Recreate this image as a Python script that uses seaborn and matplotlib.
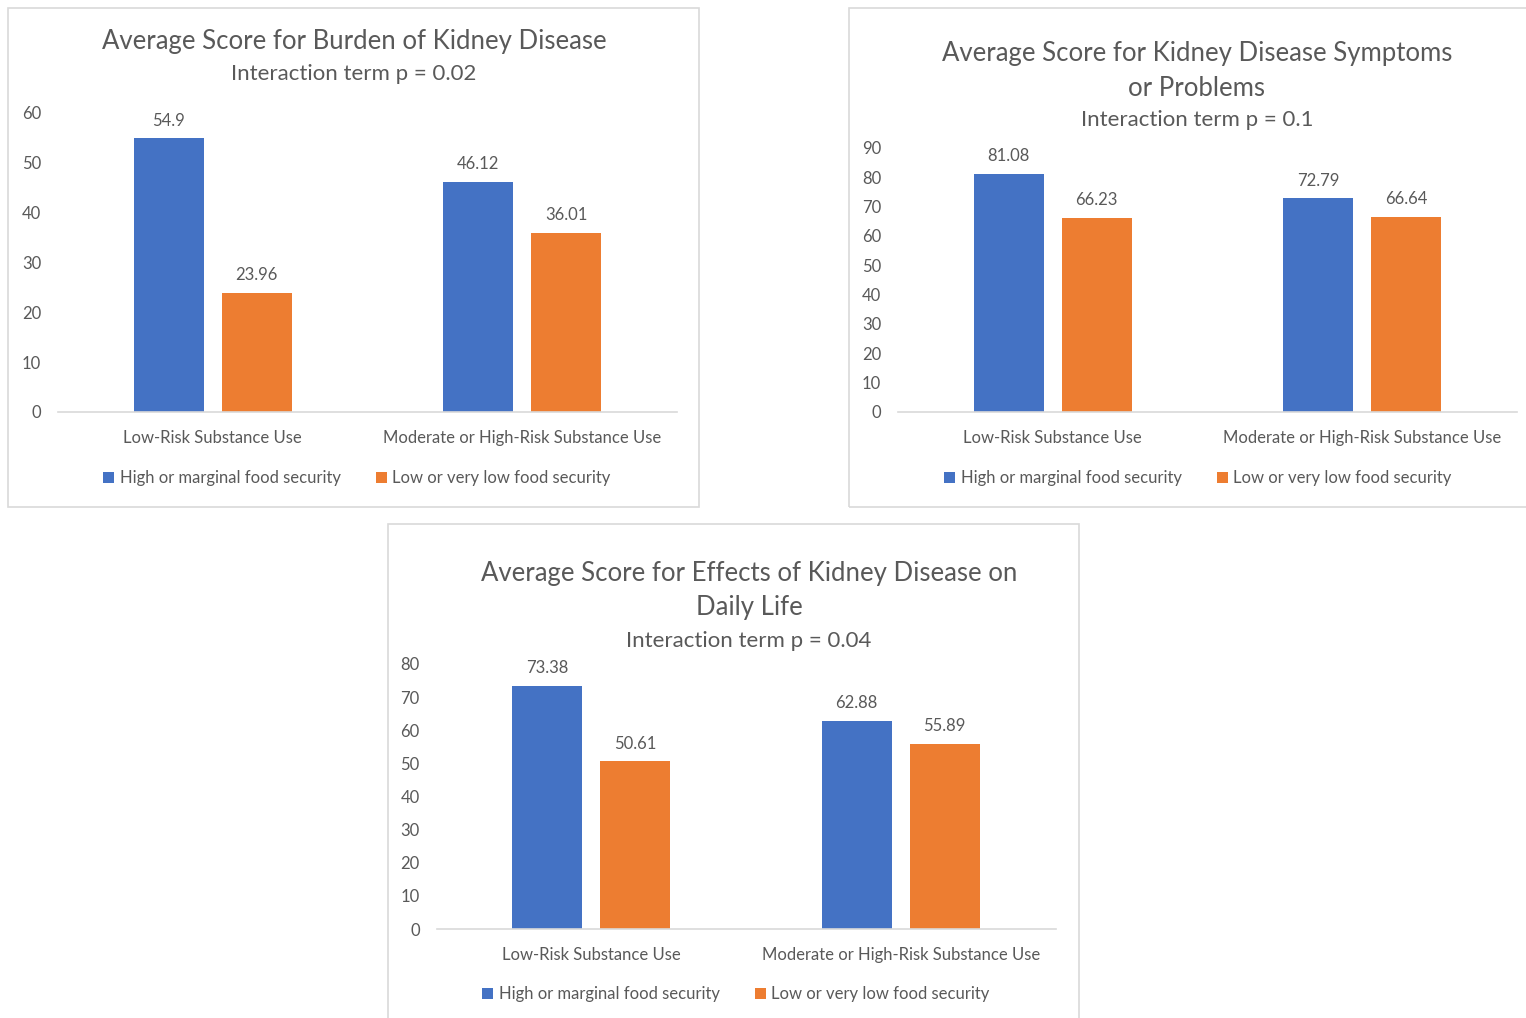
import matplotlib
matplotlib.use("Agg")
import matplotlib.pyplot as plt
import seaborn as sns
import pandas as pd
from matplotlib.patches import Rectangle, Patch

# ---- data ----
categories = ["Low-Risk Substance Use", "Moderate or High-Risk Substance Use"]
series_names = ["High or marginal food security", "Low or very low food security"]
burden_high = [54.9, 46.12]
burden_low = [23.96, 36.01]
symptoms_high = [81.08, 72.79]
symptoms_low = [66.23, 66.64]
effects_high = [73.38, 62.88]
effects_low = [50.61, 55.89]
titles = ["Average Score for Burden of Kidney Disease",
          "Average Score for Kidney Disease Symptoms\nor Problems",
          "Average Score for Effects of Kidney Disease on\nDaily Life"]
subtitles = ["Interaction term p = 0.02", "Interaction term p = 0.1", "Interaction term p = 0.04"]
y_max = [60, 90, 80]

# ---- style ----
sns.set_theme(style="white")
plt.rcParams["font.family"] = ["Lato", "DejaVu Sans"]
TXT = "#595959"
COLORS = ["#4472C4", "#ED7D31"]
W, H = 1526, 1018
fig = plt.figure(figsize=(W / 100, H / 100), dpi=100)

# panel geometry in pixels
panels = [
    dict(border=(8, 8, 699, 507), ax=(58, 113, 677, 412), title_y=[42], sub_y=74,
         leg_y=478, cx=354, lx=357, data=(burden_high, burden_low)),
    dict(border=(849, 8, 1560, 507), ax=(898, 148, 1517, 412), title_y=[54, 88], sub_y=120,
         leg_y=478, cx=1197, lx=1198, data=(symptoms_high, symptoms_low)),
    dict(border=(388, 524, 1079, 1060), ax=(436.5, 664, 1055.5, 929), title_y=[574, 607], sub_y=641,
         leg_y=994, cx=749, lx=736, data=(effects_high, effects_low)),
]

def fx(x):
    return x / W

def fy(y):
    return 1 - y / H

for i, p in enumerate(panels):
    x0, y0, x1, y1 = p["border"]
    fig.patches.append(Rectangle((fx(x0), fy(y1)), fx(x1 - x0), (y1 - y0) / H,
                                 transform=fig.transFigure, fill=False,
                                 edgecolor="#D9D9D9", linewidth=1.2, zorder=0))
    l, t, r, b = p["ax"]
    ax = fig.add_axes([fx(l), fy(b), fx(r - l), (b - t) / H])
    high, low = p["data"]
    df = pd.DataFrame({
        "category": categories * 2,
        "series": [series_names[0]] * 2 + [series_names[1]] * 2,
        "value": list(high) + list(low),
    })
    sns.barplot(data=df, x="category", y="value", hue="series", order=categories,
                hue_order=series_names, palette=COLORS, width=0.569, gap=0.2,
                saturation=1, legend=False, ax=ax, edgecolor="none")
    for c in ax.containers:
        ax.bar_label(c, fmt="{:g}", padding=7, fontsize=12, color=TXT)
    ax.set_ylim(0, y_max[i])
    ax.set_yticks(range(0, y_max[i] + 1, 10))
    ax.set_xlim(-0.5, 1.5)
    ax.set_xlabel("")
    ax.set_ylabel("")
    for s in ["top", "right", "left"]:
        ax.spines[s].set_visible(False)
    ax.spines["bottom"].set_color("#D9D9D9")
    ax.spines["bottom"].set_linewidth(1.2)
    ax.tick_params(axis="y", length=0, pad=12, labelsize=12, labelcolor=TXT)
    ax.tick_params(axis="x", length=0, pad=13, labelsize=12, labelcolor=TXT)
    ax.grid(False)
    ax.set_facecolor("none")

    for line, ty in zip(titles[i].split("\n"), p["title_y"]):
        fig.text(fx(p["cx"]), fy(ty), line, ha="center", va="center",
                 fontsize=18.5, color=TXT)
    fig.text(fx(p["cx"]), fy(p["sub_y"]), subtitles[i], ha="center", va="center",
             fontsize=16, color=TXT)
    handles = [Patch(facecolor=COLORS[k], edgecolor="none", label=series_names[k]) for k in range(2)]
    fig.legend(handles=handles, loc="center", bbox_to_anchor=(fx(p["lx"]), fy(p["leg_y"])),
               ncol=2, frameon=False, fontsize=12, labelcolor=TXT,
               handlelength=0.65, handleheight=0.65, handletextpad=0.35,
               columnspacing=2.1, borderpad=0)

fig.savefig("out.png", dpi=100, facecolor="white")
